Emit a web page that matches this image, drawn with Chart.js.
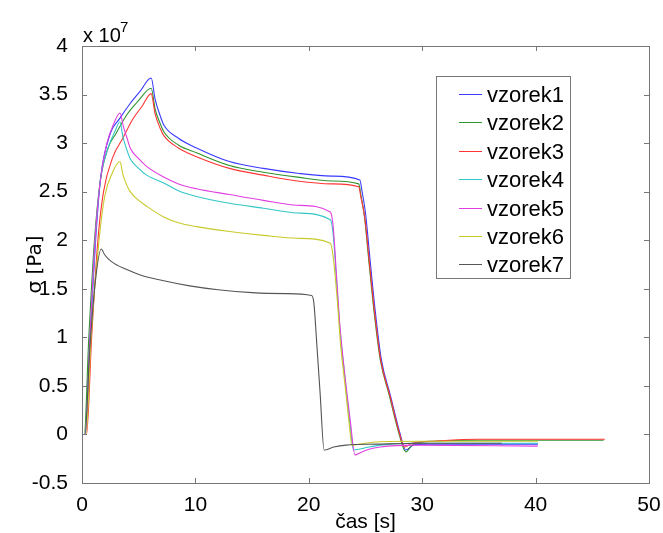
<!DOCTYPE html>
<html>
<head>
<meta charset="utf-8">
<script src="https://cdn.jsdelivr.net/npm/chart.js@4.4.1/dist/chart.umd.min.js"></script>
<style>
  html, body { margin: 0; padding: 0; background: #fff; }
  canvas { display: block; }
</style>
</head>
<body>
<canvas id="graf" width="663" height="533"></canvas>
<script>
// hodnoty napeti v jednotkach 10^7 Pa, cas v sekundach
const nazvy = ['vzorek1', 'vzorek2', 'vzorek3', 'vzorek4', 'vzorek5', 'vzorek6', 'vzorek7'];

const cas1 = [0, 0.3, 0.7, 1.2, 1.65, 2.5, 3.3, 4.2, 5.1, 6.1, 6.45, 6.9, 7.2, 8.5, 10.1, 13, 16, 19, 22, 24.5, 24.7, 25.0, 25.4, 25.85, 26.4, 27.2, 28.0, 28.55, 29.2, 30.5, 40.2];
const sigma1 = [0, 0, 1.0, 2.0, 2.65, 3.1, 3.25, 3.4, 3.53, 3.67, 3.45, 3.28, 3.19, 3.05, 2.95, 2.81, 2.74, 2.69, 2.66, 2.62, 2.5, 2.28, 1.80, 1.28, 0.77, 0.40, 0.03, -0.16, -0.11, -0.1, -0.1];

const cas2 = [0, 0.2, 0.6, 1.1, 1.6, 2.3, 3.0, 4.0, 5.0, 6.1, 6.45, 6.9, 7.2, 8.5, 10.1, 13, 16, 19, 22, 24.4, 24.6, 24.9, 25.3, 25.75, 26.3, 27.1, 27.9, 28.55, 29.2, 31, 35, 46];
const sigma2 = [0, 0, 1.0, 2.0, 2.6, 2.95, 3.1, 3.3, 3.44, 3.565, 3.35, 3.2, 3.12, 2.98, 2.9, 2.77, 2.70, 2.65, 2.61, 2.58, 2.46, 2.25, 1.78, 1.27, 0.77, 0.40, 0.03, -0.18, -0.1, -0.07, -0.06, -0.06];

const cas3 = [0, 0.4, 0.85, 1.4, 1.9, 2.7, 3.6, 4.5, 5.3, 6.1, 6.45, 6.9, 7.2, 8.5, 10.1, 13, 16, 19, 22, 24.4, 24.6, 24.95, 25.35, 25.8, 26.35, 27.15, 27.95, 28.45, 29.1, 31, 35, 46.1];
const sigma3 = [0, 0, 1.0, 2.0, 2.5, 2.85, 3.05, 3.25, 3.38, 3.51, 3.3, 3.15, 3.08, 2.95, 2.86, 2.74, 2.67, 2.61, 2.58, 2.55, 2.44, 2.22, 1.76, 1.26, 0.76, 0.40, 0.03, -0.13, -0.09, -0.07, -0.05, -0.05];

const cas4 = [0, 0.3, 0.72, 1.17, 1.6, 2.3, 2.9, 3.35, 3.6, 3.9, 4.25, 5.0, 5.7, 7.2, 8.5, 10.1, 13, 16, 19, 21.9, 22.15, 22.45, 22.75, 23.2, 23.6, 23.95, 24.5, 25.1, 26.3, 29, 40.2];
const sigma4 = [0, 0, 1.0, 2.0, 2.6, 2.95, 3.12, 3.22, 3.07, 2.95, 2.84, 2.74, 2.67, 2.59, 2.51, 2.45, 2.38, 2.33, 2.28, 2.21, 2.06, 1.58, 1.08, 0.57, 0.14, -0.16, -0.15, -0.135, -0.11, -0.09, -0.09];

const cas5 = [0, 0.3, 0.7, 1.15, 1.6, 2.2, 2.8, 3.35, 3.65, 3.95, 4.25, 5.0, 5.7, 7.2, 8.5, 10.1, 13, 16, 19, 21.9, 22.15, 22.45, 22.75, 23.2, 23.65, 24.07, 24.5, 25.1, 26.3, 29.2, 40.2];
const sigma5 = [0, 0, 1.0, 2.0, 2.6, 3.0, 3.2, 3.31, 3.17, 3.06, 2.95, 2.84, 2.76, 2.65, 2.58, 2.53, 2.47, 2.41, 2.36, 2.29, 2.14, 1.62, 1.11, 0.59, 0.15, -0.21, -0.19, -0.16, -0.13, -0.11, -0.12];

const cas6 = [0, 0.35, 0.8, 1.5, 2.0, 2.7, 3.35, 3.6, 3.9, 4.25, 5.0, 5.7, 7.2, 8.5, 10.1, 13, 16, 19, 21.9, 22.15, 22.5, 22.8, 23.25, 23.6, 23.8, 24.5, 25.3, 26.3, 30, 40.2];
const sigma6 = [0, 0, 1.0, 2.0, 2.45, 2.7, 2.81, 2.68, 2.58, 2.50, 2.41, 2.35, 2.24, 2.18, 2.14, 2.09, 2.05, 2.02, 1.97, 1.83, 1.40, 0.93, 0.45, 0.07, -0.11, -0.1, -0.085, -0.075, -0.07, -0.07];

const cas7 = [0, 0.25, 0.7, 1.2, 1.7, 2.0, 2.6, 3.9, 5.2, 6.9, 9.5, 12, 15, 18, 20.25, 20.45, 20.7, 21.0, 21.35, 22.2, 23.3, 26, 30, 37];
const sigma7 = [0, 0, 0.9, 1.6, 1.91, 1.85, 1.78, 1.70, 1.64, 1.59, 1.53, 1.49, 1.46, 1.45, 1.43, 1.35, 0.94, 0.42, -0.16, -0.13, -0.11, -0.1, -0.09, -0.09];

const osaX = [0, 10, 20, 30, 40, 50];
const osaY = [-0.5, 0, 0.5, 1, 1.5, 2, 2.5, 3, 3.5, 4];

const casy = [cas1, cas2, cas3, cas4, cas5, cas6, cas7];
const sigmy = [sigma1, sigma2, sigma3, sigma4, sigma5, sigma6, sigma7];
const barvy = ['#3a3aff', '#2f932f', '#ff3434', '#33c6c6', '#e03ee0', '#c9c92a', '#555555'];

const pismo = '"Liberation Sans", Arial, sans-serif';

const datasets = nazvy.map((nazev, i) => ({
    label: nazev,
    data: casy[i].map((t, j) => ({ x: t, y: sigmy[i][j] })),
    borderColor: barvy[i],
    backgroundColor: barvy[i],
    borderWidth: 1.1,
    pointRadius: 0,
    cubicInterpolationMode: 'monotone',
    order: nazvy.length - i
}));

// ramecek, tiky dovnitr, legenda a exponent
const matlabPlugin = {
    id: 'matlab',
    afterDatasetsDraw(chart) {
        const { ctx, chartArea: a, scales } = chart;
        ctx.save();
        ctx.strokeStyle = '#777';
        ctx.lineWidth = 1;
        ctx.strokeRect(a.left + 0.5, a.top + 0.5, a.right - a.left, a.bottom - a.top);
        ctx.beginPath();
        osaX.forEach(v => {
            const x = Math.round(scales.x.getPixelForValue(v)) + 0.5;
            ctx.moveTo(x, a.bottom); ctx.lineTo(x, a.bottom - 5);
            ctx.moveTo(x, a.top); ctx.lineTo(x, a.top + 5);
        });
        osaY.forEach(v => {
            const y = Math.round(scales.y.getPixelForValue(v)) + 0.5;
            ctx.moveTo(a.left, y); ctx.lineTo(a.left + 5, y);
            ctx.moveTo(a.right, y); ctx.lineTo(a.right - 5, y);
        });
        ctx.stroke();

        // exponent nad osou
        ctx.fillStyle = '#000';
        ctx.textBaseline = 'alphabetic';
        ctx.textAlign = 'left';
        ctx.font = '20px ' + pismo;
        ctx.fillText('x 10', 83, 42);
        ctx.font = '15px ' + pismo;
        ctx.fillText('7', 120, 32);

        // legenda
        const lx = 436, ly = 76, lw = 134, lh = 202;
        ctx.fillStyle = '#fff';
        ctx.fillRect(lx, ly, lw, lh);
        ctx.strokeStyle = '#777';
        ctx.strokeRect(lx + 0.5, ly + 0.5, lw, lh);
        ctx.font = '22px ' + pismo;
        ctx.textBaseline = 'middle';
        chart.data.datasets.forEach((ds, i) => {
            const y = Math.round(94 + i * 28.4) + 0.5;
            ctx.strokeStyle = ds.borderColor;
            ctx.lineWidth = 1;
            ctx.beginPath();
            ctx.moveTo(459, y);
            ctx.lineTo(482, y);
            ctx.stroke();
            ctx.fillStyle = '#000';
            ctx.fillText(ds.label, 487, y + 1);
        });
        ctx.restore();
    }
};

new Chart(document.getElementById('graf'), {
    type: 'line',
    data: { datasets: datasets },
    options: {
        responsive: false,
        animation: false,
        events: [],
        layout: { padding: { top: 46, right: 14, left: 0, bottom: 0 } },
        plugins: {
            legend: { display: false },
            tooltip: { enabled: false }
        },
        scales: {
            x: {
                type: 'linear',
                min: 0,
                max: 50,
                afterFit: s => { s.height = 50; },
                afterBuildTicks: s => { s.ticks = osaX.map(v => ({ value: v })); },
                grid: { display: false },
                border: { display: false },
                ticks: { color: '#000', font: { size: 21, family: pismo }, padding: 2, maxRotation: 0 },
                title: { display: true, text: 'čas [s]', color: '#000', font: { size: 21, family: pismo, lineHeight: 1 }, padding: { top: 0, bottom: 0 } }
            },
            y: {
                type: 'linear',
                min: -0.5,
                max: 4,
                afterFit: s => { s.width = 82; },
                afterBuildTicks: s => { s.ticks = osaY.map(v => ({ value: v })); },
                grid: { display: false },
                border: { display: false },
                ticks: { color: '#000', font: { size: 21, family: pismo }, padding: 6, callback: v => String(v) },
                title: { display: true, text: 'σ [Pa]', color: '#000', font: { size: 20, family: '"DejaVu Sans", sans-serif', lineHeight: 1.2 }, padding: { top: 24, bottom: 0 } }
            }
        }
    },
    plugins: [matlabPlugin]
});
</script>
</body>
</html>
